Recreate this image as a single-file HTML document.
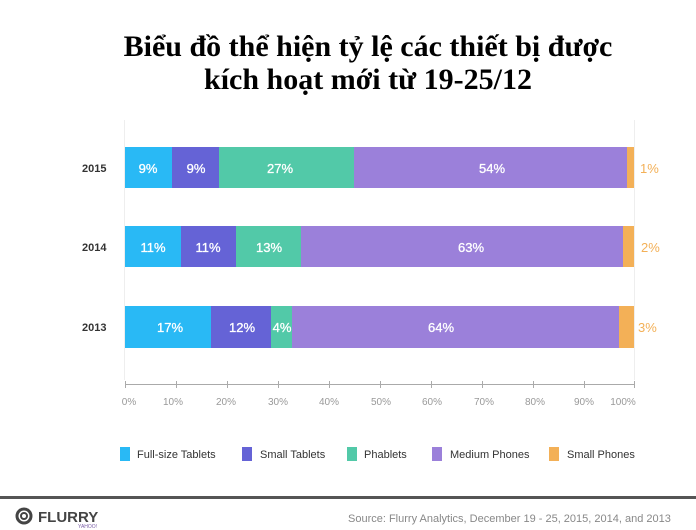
<!DOCTYPE html>
<html><head><meta charset="utf-8"><style>
html,body{margin:0;padding:0;background:#fff;width:696px;height:530px;overflow:hidden}
svg{display:block}
.t{font-family:"Liberation Serif",serif;font-weight:bold;font-size:30px;fill:#000}
.w{font-family:"Liberation Sans","DejaVu Sans",sans-serif;font-size:13px;fill:#fff;stroke:#fff;stroke-width:0.3}
.y{font-family:"Liberation Sans",sans-serif;font-size:11px;fill:#333;font-weight:bold}
.x{font-family:"Liberation Sans",sans-serif;font-size:10px;fill:#999}
.l{font-family:"Liberation Sans",sans-serif;font-size:11px;fill:#333}
.o{font-family:"Liberation Sans",sans-serif;font-size:13px;fill:#f3b057}
</style></head><body>
<svg width="696" height="530" viewBox="0 0 696 530">
<text class="t" x="368" y="56" text-anchor="middle">Biểu đồ thể hiện tỷ lệ các thiết bị được</text>
<text class="t" x="368" y="89" text-anchor="middle">kích hoạt mới từ 19-25/12</text>
<line x1="124.5" y1="120" x2="124.5" y2="380" stroke="#eee"/>
<line x1="634.5" y1="120" x2="634.5" y2="380" stroke="#eee"/>
<!-- 2015 -->
<rect x="125" y="147" width="47" height="41" fill="#29b9f5"/>
<rect x="172" y="147" width="47" height="41" fill="#6563d6"/>
<rect x="219" y="147" width="135" height="41" fill="#52c9a8"/>
<rect x="354" y="147" width="273" height="41" fill="#9b80da"/>
<rect x="627" y="147" width="7" height="41" fill="#f3b057"/>
<text class="w" x="148" y="173" text-anchor="middle">9%</text>
<text class="w" x="196" y="173" text-anchor="middle">9%</text>
<text class="w" x="280" y="173" text-anchor="middle">27%</text>
<text class="w" x="492" y="173" text-anchor="middle">54%</text>
<text class="o" x="640" y="173">1%</text>
<text class="y" x="82" y="172">2015</text>
<!-- 2014 -->
<rect x="125" y="226" width="56" height="41" fill="#29b9f5"/>
<rect x="181" y="226" width="55" height="41" fill="#6563d6"/>
<rect x="236" y="226" width="65" height="41" fill="#52c9a8"/>
<rect x="301" y="226" width="322" height="41" fill="#9b80da"/>
<rect x="623" y="226" width="11" height="41" fill="#f3b057"/>
<text class="w" x="153" y="252" text-anchor="middle">11%</text>
<text class="w" x="208" y="252" text-anchor="middle">11%</text>
<text class="w" x="269" y="252" text-anchor="middle">13%</text>
<text class="w" x="471" y="252" text-anchor="middle">63%</text>
<text class="o" x="641" y="252">2%</text>
<text class="y" x="82" y="251">2014</text>
<!-- 2013 -->
<rect x="125" y="306" width="86" height="42" fill="#29b9f5"/>
<rect x="211" y="306" width="60" height="42" fill="#6563d6"/>
<rect x="271" y="306" width="21" height="42" fill="#52c9a8"/>
<rect x="292" y="306" width="327" height="42" fill="#9b80da"/>
<rect x="619" y="306" width="15" height="42" fill="#f3b057"/>
<text class="w" x="170" y="332" text-anchor="middle">17%</text>
<text class="w" x="242" y="332" text-anchor="middle">12%</text>
<text class="w" x="282" y="332" text-anchor="middle">4%</text>
<text class="w" x="441" y="332" text-anchor="middle">64%</text>
<text class="o" x="638" y="332">3%</text>
<text class="y" x="82" y="331">2013</text>
<!-- axis -->
<line x1="125" y1="384.5" x2="634" y2="384.5" stroke="#aaa"/>
<g stroke="#aaa">
<line x1="125.5" y1="381" x2="125.5" y2="388"/><line x1="176.5" y1="381" x2="176.5" y2="388"/>
<line x1="227.5" y1="381" x2="227.5" y2="388"/><line x1="278.5" y1="381" x2="278.5" y2="388"/>
<line x1="329.5" y1="381" x2="329.5" y2="388"/><line x1="380.5" y1="381" x2="380.5" y2="388"/>
<line x1="431.5" y1="381" x2="431.5" y2="388"/><line x1="482.5" y1="381" x2="482.5" y2="388"/>
<line x1="533.5" y1="381" x2="533.5" y2="388"/><line x1="584.5" y1="381" x2="584.5" y2="388"/>
<line x1="634.5" y1="381" x2="634.5" y2="388"/></g>
<g class="x" text-anchor="middle">
<text x="129" y="405">0%</text><text x="173" y="405">10%</text><text x="226" y="405">20%</text>
<text x="278" y="405">30%</text><text x="329" y="405">40%</text><text x="381" y="405">50%</text>
<text x="432" y="405">60%</text><text x="484" y="405">70%</text><text x="535" y="405">80%</text>
<text x="584" y="405">90%</text><text x="623" y="405">100%</text></g>
<!-- legend -->
<rect x="120" y="447" width="10" height="14" fill="#29b9f5"/><text class="l" x="137" y="458">Full-size Tablets</text>
<rect x="242" y="447" width="10" height="14" fill="#6563d6"/><text class="l" x="260" y="458">Small Tablets</text>
<rect x="347" y="447" width="10" height="14" fill="#52c9a8"/><text class="l" x="364" y="458">Phablets</text>
<rect x="432" y="447" width="10" height="14" fill="#9b80da"/><text class="l" x="450" y="458">Medium Phones</text>
<rect x="549" y="447" width="10" height="14" fill="#f3b057"/><text class="l" x="567" y="458">Small Phones</text>
<!-- footer -->
<rect x="0" y="496" width="696" height="3" fill="#555"/>
<circle cx="24" cy="516" r="7" fill="none" stroke="#444" stroke-width="3"/>
<circle cx="24" cy="516" r="3" fill="none" stroke="#444" stroke-width="2"/>
<text x="38" y="522" font-family="Liberation Sans,sans-serif" font-weight="bold" font-size="15" fill="#444">FLURRY</text>
<text x="78" y="528" font-family="Liberation Sans,sans-serif" font-size="5" fill="#7b5ea7">YAHOO!</text>
<text x="348" y="522" font-family="Liberation Sans,sans-serif" font-size="11" fill="#888">Source: Flurry Analytics, December 19 - 25, 2015, 2014, and 2013</text>
</svg>
</body></html>
